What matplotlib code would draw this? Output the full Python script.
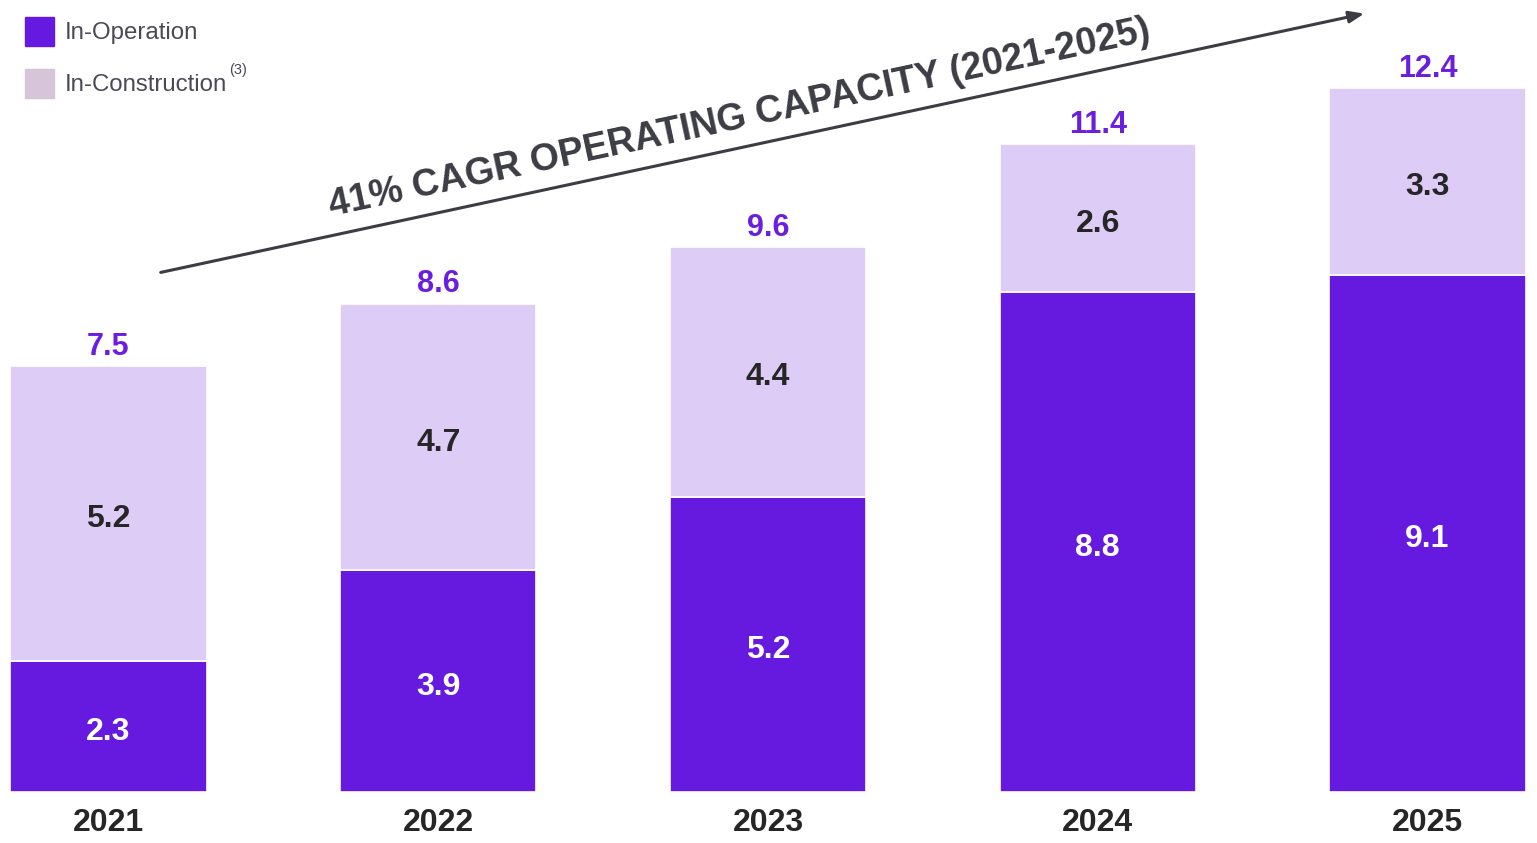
import matplotlib
matplotlib.use('Agg')
import matplotlib.pyplot as plt
import numpy as np

years = ['2021', '2022', '2023', '2024', '2025']
in_operation = [2.3, 3.9, 5.2, 8.8, 9.1]
in_construction = [5.2, 4.7, 4.4, 2.6, 3.3]
totals = [7.5, 8.6, 9.6, 11.4, 12.4]

op_color = '#661ADF'
con_color = '#DDCCF6'
legend_con_color = '#D6C5D9'
total_color = '#6A1FE0'
dark = '#262626'

plt.rcParams['font.family'] = ['Liberation Sans', 'DejaVu Sans']

fig = plt.figure(figsize=(15.37, 8.43), dpi=100)
ax = fig.add_axes([0, 0, 1, 1])

x = np.arange(len(years))
w = 0.595
ax.bar(x, in_operation, w, color=op_color, edgecolor='white', linewidth=1.2)
ax.bar(x, in_construction, w, bottom=in_operation, color=con_color,
       edgecolor='white', linewidth=1.2)

for i in range(len(years)):
    ax.annotate(f'{in_operation[i]:.1f}', (x[i], in_operation[i] / 2),
                xytext=(0, -4), textcoords='offset points', ha='center', va='center',
                color='white', fontsize=23, fontweight='bold')
    ax.annotate(f'{in_construction[i]:.1f}', (x[i], in_operation[i] + in_construction[i] / 2),
                xytext=(0, -4), textcoords='offset points', ha='center', va='center',
                color=dark, fontsize=23, fontweight='bold')
    ax.annotate(f'{totals[i]:.1f}', (x[i], in_operation[i] + in_construction[i]),
                xytext=(0, 3), textcoords='offset points', ha='center', va='bottom',
                color=total_color, fontsize=22, fontweight='bold')
    ax.annotate(years[i], (x[i], 0), xytext=(0, -22), textcoords='offset points',
                ha='center', va='center', color=dark, fontsize=23, fontweight='bold')

px_per_unit = 56.8
ax.set_xlim(-108.5 / 329.75, (1537 - 108.5) / 329.75)
ax.set_ylim(-(843 - 792) / px_per_unit, 792 / px_per_unit)
ax.axis('off')

# legend
fig.patches.append(plt.Rectangle((25, 843 - 46), 29, 29, transform=None,
                                 color=op_color, figure=fig))
fig.patches.append(plt.Rectangle((25, 843 - 98), 29, 29, transform=None,
                                 color=legend_con_color, figure=fig))
fig.text(65 / 1537, 1 - 33 / 843, 'In-Operation', ha='left', va='center',
         fontsize=17.3, color='#4A4A55')
fig.text(65 / 1537, 1 - 85 / 843, 'In-Construction', ha='left', va='center',
         fontsize=17.3, color='#4A4A55')
fig.text(229 / 1537, 1 - 70 / 843, '(3)', ha='left', va='center',
         fontsize=10.5, color='#4A4A55')

# CAGR arrow
ax.annotate('', xy=(1367, 843 - 13), xytext=(158, 843 - 273),
            xycoords='figure pixels', textcoords='figure pixels',
            arrowprops=dict(arrowstyle='-|>,head_length=0.9,head_width=0.35',
                            color='#3C3C44', lw=2.2))
fig.text(740 / 1537, 1 - 118 / 843, '41% CAGR OPERATING CAPACITY (2021-2025)',
         rotation=12.1, rotation_mode='anchor', ha='center', va='center',
         fontsize=27, fontweight='bold', color='#3C3C44')

fig.savefig('out.png', dpi=100)
